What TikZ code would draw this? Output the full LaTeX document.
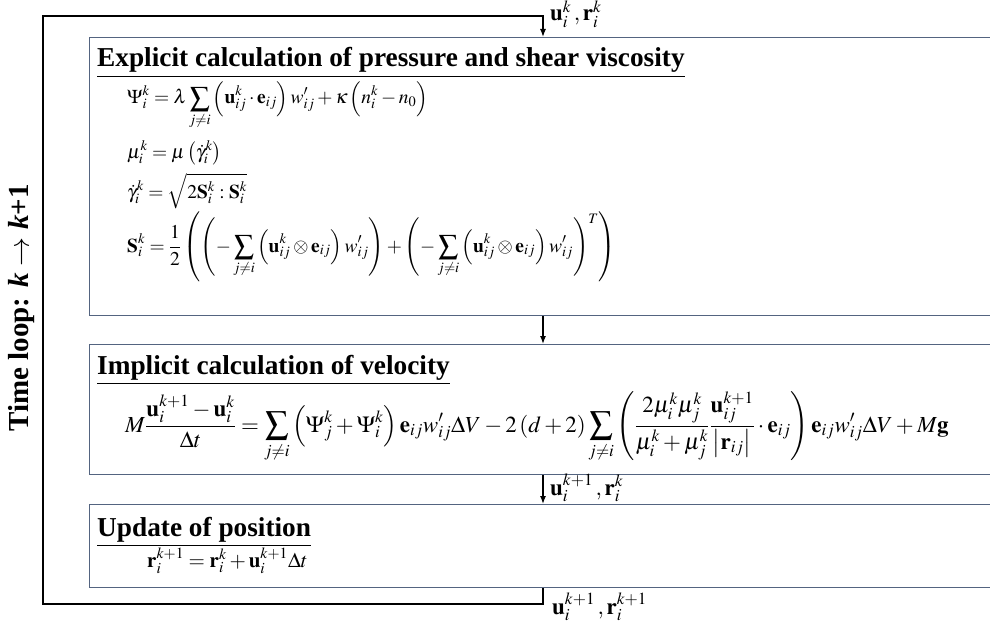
\documentclass[tikz,border=0pt]{standalone}
\usepackage{amsmath}
\usepackage{mathptmx}
\usepackage[no-math]{fontspec}
\setmainfont{Liberation Serif}
\usepackage{tikz}
\usetikzlibrary{arrows.meta,positioning}

\definecolor{boxline}{RGB}{84,100,128}

\begin{document}
\begin{tikzpicture}[x=1pt,y=-1pt,
    stepbox/.style={draw=boxline, line width=1pt, anchor=north west, inner sep=0pt, minimum width=930pt},
    flow/.style={-{Latex[length=8pt,width=6pt]}, line width=1.3pt},
    head/.style={anchor=base west, inner sep=0pt, font=\fontsize{27.3}{30}\selectfont\bfseries},
    eq/.style={anchor=base west, inner sep=0pt, font=\fontsize{19.5}{23}\selectfont},
    lbl/.style={anchor=west, inner sep=2pt, font=\fontsize{23}{27}\selectfont}]
        \useasboundingbox (0,0) rectangle (990,623);
        \clip (0,0) rectangle (990,623);
        % the three steps
        \node[stepbox, minimum height=278pt] (explicit) at (89,37) {};
        \node[stepbox, minimum height=130pt] (implicit) at (89,344) {};
        \node[stepbox, minimum height=83pt] (update) at (89,504) {};
        \coordinate (tap) at (543,0);
        \coordinate (ltop) at (43,16);
        \coordinate (lbottom) at (43,604);

        \node[head] (h1) at (97,67) {\underline{Explicit calculation of pressure and shear viscosity}};
        \node[eq] (psi) at (127,104) {$\displaystyle\Psi_i^k = \lambda\sum_{j\neq i}\left(\mathbf{u}_{ij}^k\cdot\mathbf{e}_{ij}\right)w'_{ij} + \kappa\left(n_i^k - n_0\right)$};
        \node[eq] (mu) at (127,158) {$\mu_i^k = \mu\left(\dot{\gamma}_i^k\right)$};
        \node[eq] (gam) at (127,198) {$\dot{\gamma}_i^k = \sqrt{2\mathbf{S}_i^k : \mathbf{S}_i^k}$};
        \node[eq] (strain) at (127,252) {$\displaystyle\mathbf{S}_i^k = \frac{1}{2}\left(\left(-\sum_{j\neq i}\left(\mathbf{u}_{ij}^k\otimes\mathbf{e}_{ij}\right)w'_{ij}\right)+\left(-\sum_{j\neq i}\left(\mathbf{u}_{ij}^k\otimes\mathbf{e}_{ij}\right)w'_{ij}\right)^{T}\right)$};

        \node[head] (h2) at (97,374) {\underline{Implicit calculation of velocity}};
        \node[eq, font=\fontsize{23}{27}\selectfont] (vel) at (125,432) {$\displaystyle M\frac{\mathbf{u}_i^{k+1}-\mathbf{u}_i^k}{\Delta t} = \sum_{j\neq i}\left(\Psi_j^k+\Psi_i^k\right)\mathbf{e}_{ij}w'_{ij}\Delta V - 2\left(d+2\right)\sum_{j\neq i}\left(\frac{2\mu_i^k\mu_j^k}{\mu_i^k+\mu_j^k}\frac{\mathbf{u}_{ij}^{k+1}}{\left|\mathbf{r}_{ij}\right|}\cdot\mathbf{e}_{ij}\right)\mathbf{e}_{ij}w'_{ij}\Delta V + M\mathbf{g}$};

        \node[head] (h3) at (97,536) {\underline{Update of position}};
        \node[eq, font=\fontsize{21}{25}\selectfont] (pos) at (147,567) {$\mathbf{r}_i^{k+1} = \mathbf{r}_i^k + \mathbf{u}_i^{k+1}\Delta t$};

        % time loop
        \node[rotate=90, inner sep=0pt, font=\fontsize{29}{32}\selectfont\bfseries] (loop) at (22,308) {Time loop: \textit{k} $\boldsymbol{\rightarrow}$ \textit{k}+1};
        \draw[flow] (update.south -| tap) |- (lbottom) -- (ltop) -| (explicit.north -| tap);
        \draw[flow] (explicit.south -| tap) -- (implicit.north -| tap);
        \draw[flow] (implicit.south -| tap) -- (update.north -| tap);

        \node[lbl] (inlbl) at (548,14) {$\mathbf{u}_i^k\,,\mathbf{r}_i^k$};
        \node[lbl] (midlbl) at (548,488) {$\mathbf{u}_i^{k+1}\,,\mathbf{r}_i^k$};
        \node[lbl] (outlbl) at (550,607) {$\mathbf{u}_i^{k+1}\,,\mathbf{r}_i^{k+1}$};
    \end{tikzpicture}
\end{document}
